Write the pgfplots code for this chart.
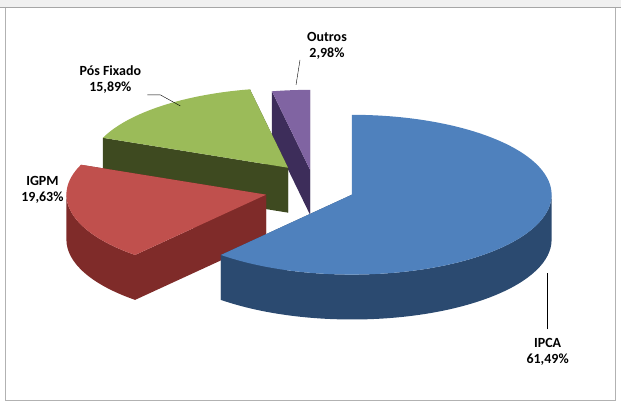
\documentclass[border=0pt]{standalone}
\usepackage{pgfplots}
\pgfplotsset{compat=1.18}
\usepackage{fontspec}
\setmainfont{Carlito}
\definecolor{cipca}{HTML}{4F81BD}\definecolor{cipcas}{HTML}{2B4A70}
\definecolor{cigpm}{HTML}{C0504D}\definecolor{cigpms}{HTML}{7F2B29}
\definecolor{cpos}{HTML}{9BBB59}\definecolor{cposs}{HTML}{3E4A20}
\definecolor{cout}{HTML}{8064A2}\definecolor{couts}{HTML}{3D2D5A}
\newcommand{\rwall}[4]{\fill[fill=#4] (axis cs:#1,#2) -- ++(#3:200pt and 80pt) -- ++(0,-45pt) -- ++({#3+180}:200pt and 80pt) -- cycle;}
\newcommand{\owall}[5]{\fill[fill=#5] (axis cs:#1,#2) ++(#3:200pt and 80pt) arc[start angle=#3,end angle=#4,x radius=200pt,y radius=80pt] -- ++(0,-45pt) arc[start angle=#4,end angle=#3,x radius=200pt,y radius=80pt] -- cycle;}
\newcommand{\tface}[5]{\fill[fill=#5] (axis cs:#1,#2) -- ++(#3:200pt and 80pt) arc[start angle=#3,end angle=#4,x radius=200pt,y radius=80pt] -- cycle;}
\begin{document}
\begin{tikzpicture}
\begin{axis}[scale only axis,width=621pt,height=410pt,xmin=0,xmax=621,ymin=0,ymax=410,axis lines=none,clip=false]
\fill[gray!12] (axis cs:0,402) rectangle (axis cs:621,410);
\draw[gray!70,line width=1pt] (axis cs:0,402) -- (axis cs:621,402);
\draw[gray!60] (axis cs:5,402) -- (axis cs:5,9) -- (axis cs:616,9) -- (axis cs:616,402);
% Outros
\rwall{310}{240}{90}{couts}\rwall{310}{240}{101}{couts}
\tface{310}{240}{90}{101}{cout}
% Pos Fixado
\rwall{288}{242}{101}{cposs}\rwall{288}{242}{158}{cposs}
\tface{288}{242}{101}{158}{cpos}
% IGPM
\rwall{266}{215}{158}{cigpms}\rwall{266}{215}{229}{cigpms}
\owall{266}{215}{180}{229}{cigpms}
\tface{266}{215}{158}{229}{cigpm}
% IPCA
\rwall{352}{215}{229}{cipcas}
\owall{352}{215}{229}{360}{cipcas}
\tface{352}{215}{-131}{90}{cipca}
\addplot[draw=none] coordinates {(0,0)};
\begin{scope}[font=\fontsize{14}{16}\selectfont\bfseries]
\node[align=center] at (axis cs:327,364) {Outros\\2,98\%};
\draw (axis cs:300,350) -- (axis cs:296,325);
\node[align=center] at (axis cs:110,330) {Pós Fixado\\15,89\%};
\draw (axis cs:147,315) -- (axis cs:160,315) -- (axis cs:180,304);
\node[align=center] at (axis cs:42,220) {IGPM\\19,63\%};
\node[align=center] at (axis cs:548,58) {IPCA\\61,49\%};
\draw (axis cs:548,80) -- (axis cs:548,137);
\end{scope}
\end{axis}
\end{tikzpicture}
\end{document}
